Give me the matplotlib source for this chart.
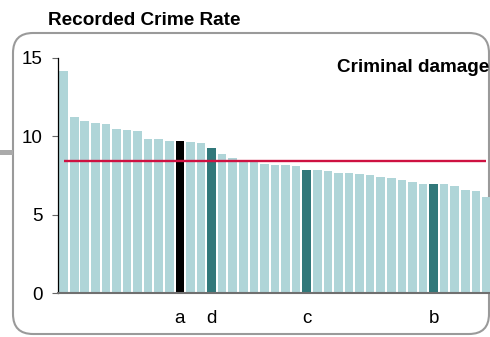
import matplotlib.pyplot as plt
from matplotlib.patches import FancyBboxPatch, Rectangle

plt.rcParams['font.family'] = ['Liberation Sans', 'DejaVu Sans']

# recorded crime rate per area, sorted high to low
rates = [14.18, 11.22, 11.0, 10.86, 10.81, 10.47, 10.41, 10.32, 9.83, 9.81,
         9.73, 9.73, 9.65, 9.57, 9.24, 8.90, 8.61, 8.48, 8.44, 8.26,
         8.17, 8.15, 8.09, 7.84, 7.83, 7.77, 7.66, 7.64, 7.62, 7.51,
         7.41, 7.36, 7.22, 7.07, 6.97, 6.96, 6.94, 6.83, 6.56, 6.49, 6.13]
average = 8.43
# highlighted areas: index -> label
highlight_idx = [11, 14, 23, 35]
highlight_lbl = ['a', 'd', 'c', 'b']
highlight_col = ['#000000', '#31787a', '#31787a', '#31787a']
y_ticks = [0, 5, 10, 15]

W, H = 490, 337
fig = plt.figure(figsize=(W / 100, H / 100), dpi=100)

# background frame drawn in pixel units
bg = fig.add_axes([0, 0, 1, 1])
bg.set_xlim(0, W)
bg.set_ylim(0, H)
bg.axis('off')
bg.add_patch(FancyBboxPatch((13, 3), 476, 301, boxstyle='round,pad=0,rounding_size=20',
                            facecolor='white', edgecolor='#9a9a9a', linewidth=1.5))
bg.add_patch(Rectangle((0, 182), 13, 5, facecolor='#aaaaaa', edgecolor='none'))

ax = fig.add_axes([58 / W, 44 / H, 433.7 / W, 235 / H])
ax.patch.set_alpha(0)

x = list(range(len(rates)))
colors = ['#afd5d8'] * len(rates)
for i, c in zip(highlight_idx, highlight_col):
    colors[i] = c
ax.bar(x, rates, width=0.82, color=colors, edgecolor='none')
ax.hlines(average, 0, len(rates) - 1, color='#ce1141', linewidth=1.7)

ax.set_xlim(-0.53, len(rates) - 0.5)
ax.set_ylim(0, 15)
ax.set_yticks(y_ticks)
ax.tick_params(axis='y', length=4.3, width=0.8, color='#666666', labelsize=13.5, pad=7)

tick_labels = [''] * len(rates)
for i, l in zip(highlight_idx, highlight_lbl):
    tick_labels[i] = l
ax.set_xticks(x)
ax.set_xticklabels(tick_labels, fontsize=13.5)
ax.tick_params(axis='x', length=0, pad=12.5)

for s in ['top', 'right']:
    ax.spines[s].set_visible(False)
ax.spines['left'].set_color('black')
ax.spines['left'].set_linewidth(0.9)
ax.spines['bottom'].set_color('#707070')
ax.spines['bottom'].set_linewidth(1.5)

fig.text(48 / W, 1 - 25 / H, 'Recorded Crime Rate', fontsize=13.7, fontweight='bold',
         va='baseline', ha='left')
fig.text(337 / W, 1 - 72 / H, 'Criminal damage', fontsize=13.6, fontweight='bold',
         va='baseline', ha='left')

fig.savefig('out.png', dpi=100)
